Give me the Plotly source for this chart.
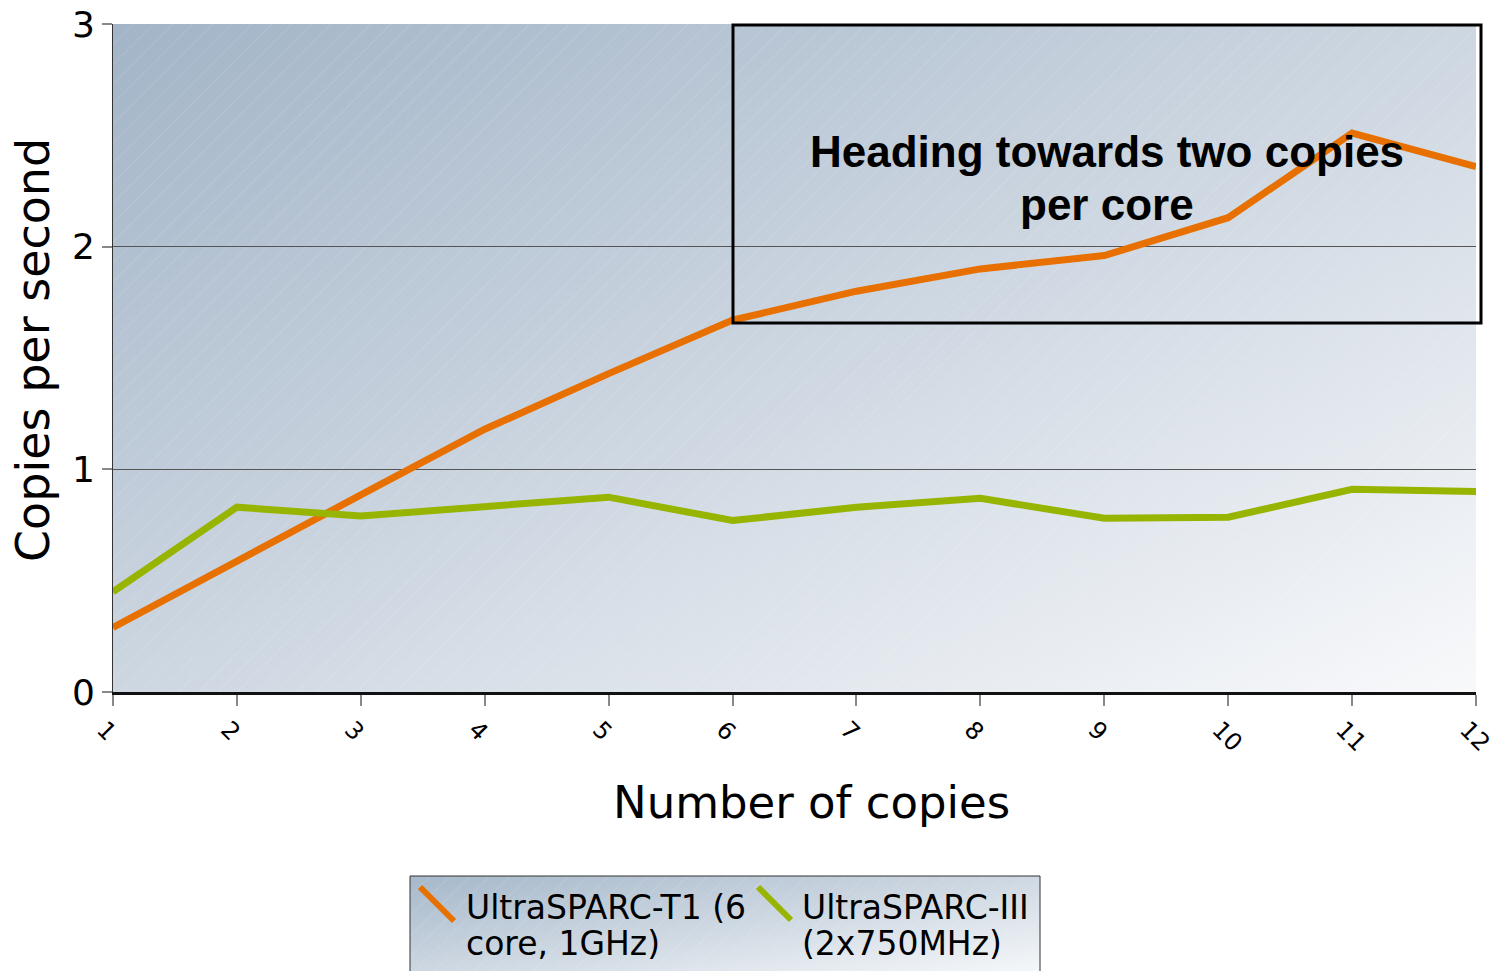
import base64
import plotly.graph_objects as go

copies = [1, 2, 3, 4, 5, 6, 7, 8, 9, 10, 11, 12]
t1_values = [0.29, 0.59, 0.885, 1.18, 1.43, 1.67, 1.80, 1.90, 1.96, 2.13, 2.51, 2.36]
iii_values = [0.45, 0.83, 0.79, 0.83, 0.875, 0.77, 0.83, 0.87, 0.78, 0.785, 0.91, 0.90]
series_names = ["UltraSPARC-T1 (6 core, 1GHz)", "UltraSPARC-III (2x750MHz)"]
legend_lines = [["UltraSPARC-T1 (6", "core, 1GHz)"], ["UltraSPARC-III", "(2x750MHz)"]]
heading_lines = ["Heading towards two copies", "per core"]
series_colors = ["#E87000", "#97B400"]
y_ticks = [0, 1, 2, 3]

W, H = 1493, 971
L, R, T, B = 113, 17, 24, 279
pw, ph = W - L - R, H - T - B


def grad_svg(w, h, c0, c1):
    svg = (
        f'<svg xmlns="http://www.w3.org/2000/svg" width="{w}" height="{h}" '
        f'viewBox="0 0 {w} {h}" preserveAspectRatio="none">'
        '<defs><linearGradient id="g" x1="0" y1="0" x2="1" y2="1">'
        f'<stop offset="0" stop-color="{c0}"/><stop offset="1" stop-color="{c1}"/>'
        '</linearGradient>'
        '<pattern id="p" width="14" height="14" patternUnits="userSpaceOnUse" '
        'patternTransform="rotate(45)"><line x1="0" y1="0" x2="0" y2="14" '
        'stroke="white" stroke-opacity="0.22" stroke-width="1"/></pattern></defs>'
        '<rect width="100%" height="100%" fill="url(#g)"/>'
        '<rect width="100%" height="100%" fill="url(#p)"/></svg>'
    )
    return "data:image/svg+xml;base64," + base64.b64encode(svg.encode()).decode()


def px_x(p):
    return (p - L) / pw


def px_y(p):
    return (T + ph - p) / ph


fig = go.Figure()
fig.add_trace(go.Scatter(x=copies, y=t1_values, mode="lines", name=series_names[0],
                         line=dict(color=series_colors[0], width=7), showlegend=False))
fig.add_trace(go.Scatter(x=copies, y=iii_values, mode="lines", name=series_names[1],
                         line=dict(color=series_colors[1], width=7), showlegend=False))

images = [
    dict(source=grad_svg(pw, ph, "#a2b4c7", "#f8f9fb"), xref="paper", yref="paper",
         x=0, y=1, sizex=1, sizey=1, sizing="stretch", layer="below"),
]
lx0, lx1, ly0, ly1 = px_x(410), px_x(1040), px_y(876), px_y(975)
images.append(dict(source=grad_svg(630, 99, "#a6b8ca", "#f6f8fa"), xref="paper", yref="paper",
                   x=lx0, y=ly0, sizex=lx1 - lx0, sizey=ly0 - ly1, sizing="stretch", layer="below"))

shapes = [
    dict(type="rect", xref="paper", yref="paper", x0=lx0, x1=lx1, y0=ly1, y1=ly0,
         line=dict(color="#333333", width=1), fillcolor="rgba(0,0,0,0)"),
    dict(type="rect", xref="paper", yref="paper", x0=px_x(733), x1=px_x(1481),
         y0=px_y(323), y1=px_y(25), line=dict(color="black", width=3), fillcolor="rgba(0,0,0,0)"),
    dict(type="line", xref="paper", yref="paper", x0=px_x(420), y0=px_y(887), x1=px_x(454), y1=px_y(921),
         line=dict(color=series_colors[0], width=6)),
    dict(type="line", xref="paper", yref="paper", x0=px_x(758), y0=px_y(887), x1=px_x(791), y1=px_y(920),
         line=dict(color=series_colors[1], width=6)),
]

font_main = "DejaVu Sans, Verdana, sans-serif"
font_head = "Liberation Sans, Arial, sans-serif"
annotations = [
    dict(text=heading_lines[0], xref="paper", yref="paper", x=px_x(1107), y=px_y(152),
         xanchor="center", yanchor="middle", showarrow=False,
         font=dict(family=font_head, size=44, color="black", weight="bold")),
    dict(text=heading_lines[1], xref="paper", yref="paper", x=px_x(1107), y=px_y(204),
         xanchor="center", yanchor="middle", showarrow=False,
         font=dict(family=font_head, size=44, color="black", weight="bold")),
    dict(text="Copies per second", xref="paper", yref="paper", x=px_x(33), y=px_y(350),
         xanchor="center", yanchor="middle", textangle=-90, showarrow=False,
         font=dict(family=font_main, size=46, color="black")),
    dict(text="Number of copies", xref="paper", yref="paper", x=px_x(812), y=px_y(802),
         xanchor="center", yanchor="middle", showarrow=False,
         font=dict(family=font_main, size=45, color="black")),
]
for i, (xl, lines) in enumerate(zip([464, 800], legend_lines)):
    for j, line in enumerate(lines):
        annotations.append(dict(text=line, xref="paper", yref="paper", x=px_x(xl), y=px_y(907 + 36 * j),
                                xanchor="left", yanchor="middle", showarrow=False,
                                font=dict(family=font_main, size=33, color="black")))

fig.update_layout(
    width=W, height=H,
    margin=dict(l=L, r=R, t=T, b=B, pad=0, autoexpand=False),
    paper_bgcolor="white", plot_bgcolor="rgba(0,0,0,0)",
    images=images, shapes=shapes, annotations=annotations,
    showlegend=False,
)
fig.update_xaxes(range=[1, 12], tickvals=copies, ticktext=[str(c) for c in copies],
                 tickangle=45, tickfont=dict(family=font_main, size=24, color="black"),
                 ticklabeloverflow="allow", ticklabelshift=-9, automargin=False,
                 showgrid=False, zeroline=False, showline=True, linecolor="#111111", linewidth=3,
                 ticks="outside", ticklen=11, tickcolor="#888888", tickwidth=2)
fig.update_yaxes(range=[0, 3], tickvals=y_ticks, tickfont=dict(family=font_main, size=36, color="black"),
                 automargin=False,
                 showgrid=True, gridcolor="#555555", gridwidth=1, zeroline=False,
                 showline=True, linecolor="#333333", linewidth=1,
                 ticks="outside", ticklen=10, tickcolor="#888888", tickwidth=2)

fig.write_html("out.html", config={"displayModeBar": False},
               post_script="document.body.style.margin='0';")
